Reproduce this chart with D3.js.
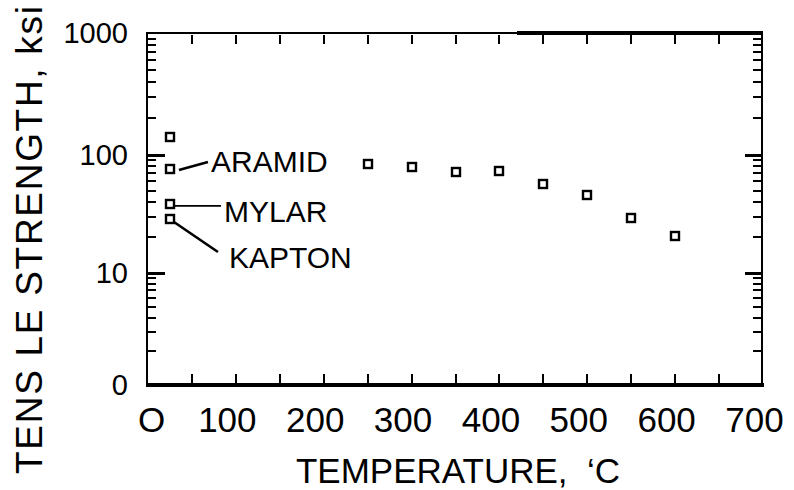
<!DOCTYPE html>
<html><head><meta charset="utf-8">
<script src="https://cdn.jsdelivr.net/npm/d3@7"></script>
<style>
html,body{margin:0;padding:0;background:#fff;}
svg{display:block;font-family:"Liberation Sans",Arial,sans-serif;}
</style></head>
<body><svg id="chart" width="794" height="490"></svg>
<script>
// ---- data ----
const xTickValues = [0,100,200,300,400,500,600,700];
const xTickLabels = ["O","100","200","300","400","500","600","700"];
const yTickValues = [1,10,100,1000];
const yTickLabels = ["0","10","100","1000"];
const seriesTemps = [250,300,350,400,450,500,550,600];
const seriesValues = [84,79,72,73,57,46,29,20.6];
const roomTemp = 25;
const unlabeledRoomValue = 141;
const filmNames = ["ARAMID","MYLAR","KAPTON"];
const filmValues = [76,38.5,28.7];
const xTitle = "TEMPERATURE,  \u2018C";
const yTitle = "TENS LE STRENGTH, ksi";

// ---- layout ----
const svg = d3.select("#chart");
const L = 147, R = 762, T = 33, B = 385;
const x = d3.scaleLinear().domain([0,700]).range([148,763]);
const y = d3.scaleLog().domain([1,10,100,1000]).range([B,273,155,T]);

const minorY = [];
[1,10,100].forEach(d=>{for(let k=2;k<=9;k++) minorY.push(d*k);});
const majorY = [10,100];
const xTicks50 = d3.range(50,700,50);
const r = v => Math.round(v);

// frame as filled rects
const fr = svg.append("g").attr("fill","#000");
fr.append("rect").attr("x",L-1).attr("y",T-1).attr("width",R-L+2).attr("height",2);
fr.append("rect").attr("x",r(x(420))).attr("y",T-2).attr("width",R+1-r(x(420))).attr("height",4);
fr.append("rect").attr("x",L-1).attr("y",B-2).attr("width",R-L+3).attr("height",4);
fr.append("rect").attr("x",L-1).attr("y",T-1).attr("width",2).attr("height",B-T+2);
fr.append("rect").attr("x",R-1).attr("y",T-1).attr("width",2).attr("height",B-T+2);

// ticks as filled rects positioned by the scales
const tg = svg.append("g").attr("fill","#000");
tg.selectAll("rect.ml").data(minorY).join("rect").attr("class","ml")
  .attr("x",L).attr("y",d=>r(y(d))-1).attr("width",9).attr("height",2);
tg.selectAll("rect.Ml").data(majorY).join("rect").attr("class","Ml")
  .attr("x",L).attr("y",d=>r(y(d))-1).attr("width",18).attr("height",3);
tg.selectAll("rect.mr").data(minorY).join("rect").attr("class","mr")
  .attr("x",R-9).attr("y",d=>r(y(d))-1).attr("width",9).attr("height",2);
tg.selectAll("rect.Mr").data(majorY).join("rect").attr("class","Mr")
  .attr("x",R-17).attr("y",d=>r(y(d))-1).attr("width",17).attr("height",3);
tg.selectAll("rect.xt").data(xTicks50).join("rect").attr("class","xt")
  .attr("x",d=>r(x(d))-1).attr("y",T+2).attr("width",2).attr("height",9);
tg.selectAll("rect.xb").data(xTicks50).join("rect").attr("class","xb")
  .attr("x",d=>r(x(d))-1).attr("y",B-11).attr("width",2).attr("height",9);

// tick labels
const yLab = svg.append("g").attr("transform",`translate(${L},0)`)
  .call(d3.axisLeft(y).tickValues(yTickValues).tickSize(0).tickPadding(19)
    .tickFormat((d,i)=>yTickLabels[i]));
yLab.select(".domain").remove();
yLab.selectAll("text").attr("font-size",29).attr("font-family","Liberation Sans, Arial, sans-serif").attr("fill","#000");

const xLab = svg.append("g").attr("transform",`translate(0,${B})`)
  .call(d3.axisBottom(x).tickValues(xTickValues).tickSize(0).tickPadding(22)
    .tickFormat((d,i)=>xTickLabels[i]));
xLab.select(".domain").remove();
xLab.selectAll("text").attr("font-size",35).attr("font-family","Liberation Sans, Arial, sans-serif").attr("fill","#000")
  .attr("dx",d=>d===0?3:-9);

// titles
svg.append("text").attr("x",458).attr("y",483).attr("text-anchor","middle")
  .attr("font-size",35).style("white-space","pre").text(xTitle);
svg.append("text").attr("transform","translate(42,240) rotate(-90)").attr("text-anchor","middle")
  .attr("font-size",37).attr("textLength",468).attr("lengthAdjust","spacing").text(yTitle);

// points
const pts = seriesTemps.map((t,i)=>({t,v:seriesValues[i]}))
  .concat([{t:roomTemp,v:unlabeledRoomValue}])
  .concat(filmValues.map(v=>({t:roomTemp,v})));
svg.append("g").selectAll("rect").data(pts).join("rect")
  .attr("x",d=>Math.round(x(d.t))-4).attr("y",d=>Math.round(y(d.v))-4).attr("width",8).attr("height",8)
  .attr("fill","#fff").attr("stroke","#000").attr("stroke-width",2.4);

// annotations
const leader = [[9,1,38,-7],[5,2,51,2],[4,3,48,33]];
const labOff = [[41,3],[54,18],[59,49]];
const ann = svg.append("g");
filmNames.forEach((n,i)=>{
  const px = x(roomTemp), py = y(filmValues[i]);
  ann.append("line").attr("x1",px+leader[i][0]).attr("y1",py+leader[i][1])
    .attr("x2",px+leader[i][2]).attr("y2",py+leader[i][3])
    .attr("stroke","#000").attr("stroke-width",i===1?1.6:2.6);
  ann.append("text").attr("x",px+labOff[i][0]).attr("y",py+labOff[i][1])
    .attr("font-size",30).text(n);
});
</script></body></html>
